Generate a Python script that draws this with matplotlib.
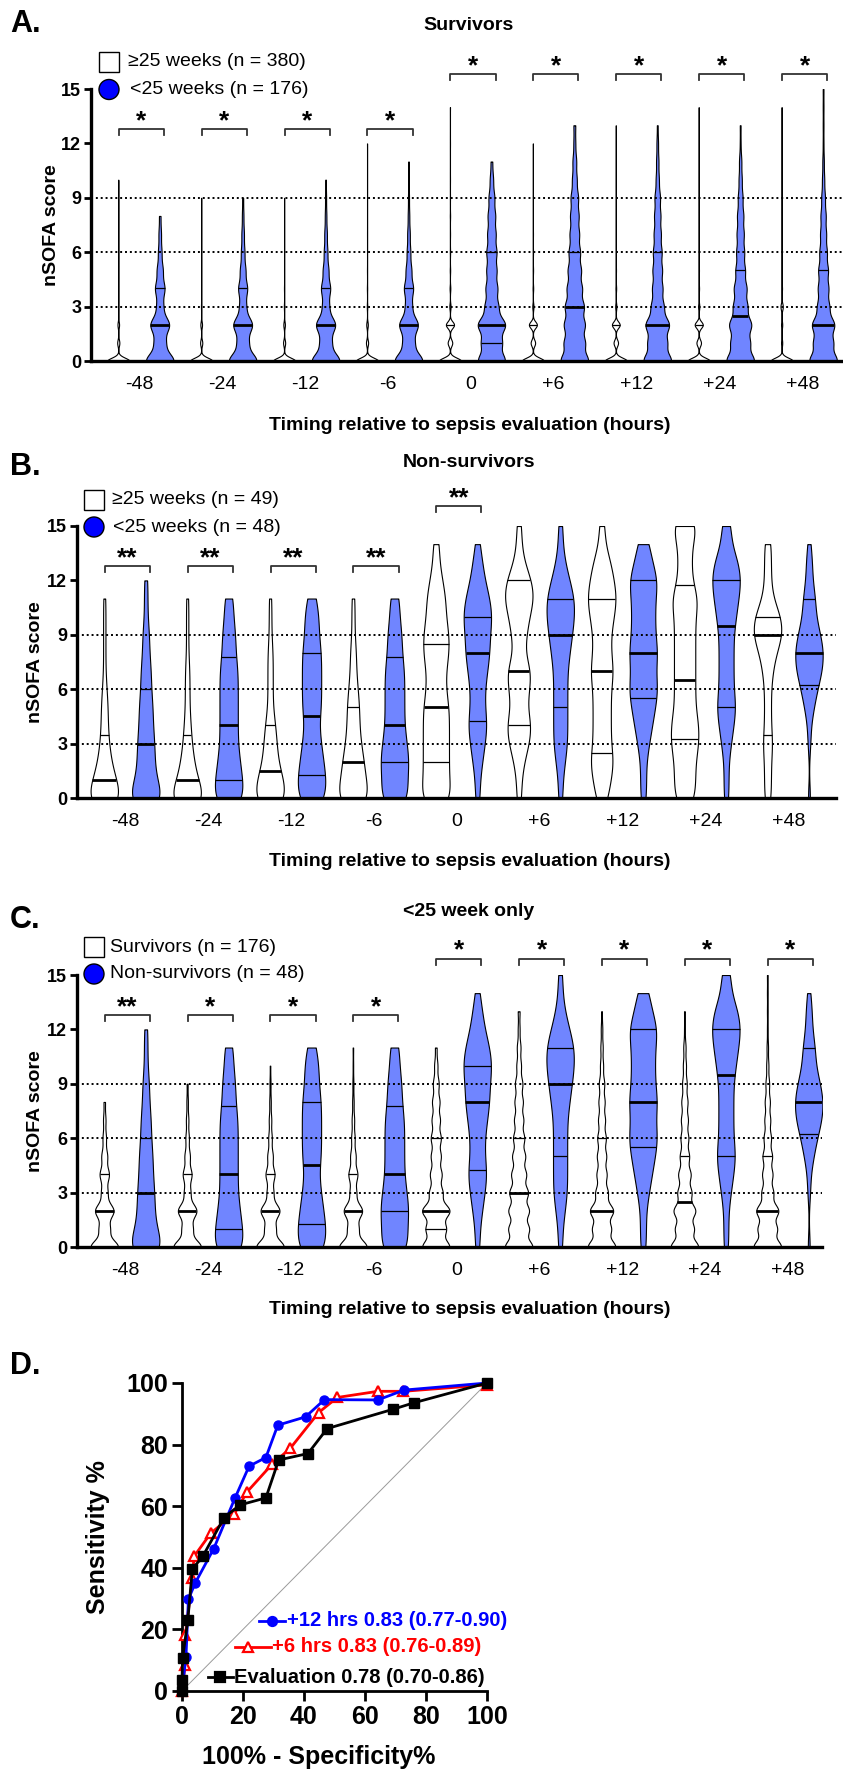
import numpy as np
import matplotlib
matplotlib.use('Agg')
import matplotlib.pyplot as plt
from matplotlib import cbook
from matplotlib.patches import Rectangle, Ellipse

plt.rcParams['font.family'] = ['Liberation Sans', 'DejaVu Sans']

# ---------------- data ----------------
times = ['-48', '-24', '-12', '-6', '0', '+6', '+12', '+24', '+48']

counts_g25_surv = [
    [312, 30, 22, 7, 4, 2, 1, 0, 1, 0, 1],
    [312, 30, 23, 7, 4, 2, 1, 0, 0, 1],
    [314, 29, 22, 7, 4, 2, 1, 0, 0, 1],
    [313, 30, 22, 7, 4, 2, 0, 1, 0, 0, 0, 0, 1],
    [220, 45, 80, 12, 7, 4, 3, 2, 3, 1, 1, 0, 1, 0, 1],
    [225, 45, 80, 12, 6, 4, 3, 2, 1, 1, 0, 0, 1],
    [225, 45, 78, 12, 7, 4, 3, 2, 1, 1, 1, 0, 0, 1],
    [222, 45, 80, 12, 7, 5, 3, 2, 1, 1, 1, 0, 0, 0, 1],
    [290, 15, 15, 30, 10, 6, 5, 3, 2, 1, 1, 0, 0, 0, 2],
]
counts_l25_surv = [
    [57, 22, 38, 13, 19, 12, 7, 5, 3],
    [57, 22, 38, 13, 18, 11, 7, 5, 3, 2],
    [56, 22, 38, 13, 18, 11, 7, 5, 3, 2, 1],
    [56, 22, 37, 13, 18, 11, 7, 5, 3, 2, 1, 1],
    [33, 24, 33, 16, 14, 12, 12, 10, 9, 7, 4, 2],
    [30, 22, 22, 20, 16, 14, 12, 10, 9, 8, 5, 4, 2, 2],
    [36, 24, 30, 16, 13, 12, 11, 9, 8, 7, 4, 3, 2, 1],
    [36, 24, 28, 18, 16, 12, 10, 9, 8, 6, 4, 3, 1, 1],
    [38, 26, 30, 16, 14, 13, 10, 8, 7, 5, 3, 2, 1, 1, 1, 1],
]
counts_g25_nonsurv = [
    [16, 10, 6, 4, 3, 3, 2, 1, 1, 1, 1, 1],
    [17, 9, 6, 4, 3, 2, 2, 2, 1, 1, 1, 1],
    [13, 10, 6, 5, 4, 2, 2, 2, 2, 1, 1, 1],
    [11, 8, 7, 5, 4, 4, 3, 2, 2, 1, 1, 1],
    [5, 4, 4, 4, 4, 4, 3, 3, 4, 4, 3, 3, 2, 1, 1],
    [1, 1, 2, 4, 5, 3, 4, 5, 2, 3, 4, 6, 5, 2, 1, 1],
    [2, 3, 4, 3, 3, 3, 3, 4, 3, 3, 4, 5, 4, 3, 1, 1],
    [3, 3, 3, 4, 4, 3, 3, 3, 3, 3, 3, 4, 2, 2, 2, 4],
    [2, 2, 2, 3, 2, 2, 2, 3, 5, 9, 8, 3, 2, 2, 2],
]
counts_l25_nonsurv = [
    [11, 6, 5, 5, 4, 4, 3, 3, 2, 2, 1, 1, 1],
    [7, 6, 5, 4, 4, 4, 4, 4, 3, 3, 2, 2],
    [6, 6, 5, 4, 3, 4, 4, 4, 4, 3, 3, 2],
    [6, 5, 6, 5, 4, 4, 4, 4, 3, 3, 2, 2],
    [1, 1, 2, 3, 4, 3, 3, 4, 5, 5, 6, 5, 3, 2, 1],
    [1, 1, 2, 3, 3, 3, 3, 3, 4, 5, 6, 6, 4, 2, 1, 1],
    [1, 1, 1, 2, 3, 4, 5, 4, 5, 4, 4, 4, 5, 3, 2],
    [1, 1, 1, 2, 3, 4, 3, 3, 3, 3, 4, 5, 6, 5, 2, 2],
    [1, 0, 0, 1, 1, 3, 5, 8, 9, 7, 4, 4, 2, 2, 1],
]

# quartile lines (Q1, median, Q3)
q1_g25_surv = [0, 0, 0, 0, 0, 0, 0, 0, 0]
med_g25_surv = [0, 0, 0, 0, 0, 0, 0, 0, 0]
q3_g25_surv = [0, 0, 0, 0, 2, 2, 2, 2, 2.75]

q1_l25_surv = [0, 0, 0, 0, 1, 0, 0, 0, 0]
med_l25_surv = [2, 2, 2, 2, 2, 3, 2, 2.5, 2]
q3_l25_surv = [4, 4, 4, 4, 6, 6, 6, 5, 5]

q1_g25_nonsurv = [0, 0, 0, 0, 2, 4, 2.5, 3.25, 3.5]
med_g25_nonsurv = [1, 1, 1.5, 2, 5, 7, 7, 6.5, 9]
q3_g25_nonsurv = [3.5, 3.5, 4, 5, 8.5, 12, 11, 11.75, 10]

q1_l25_nonsurv = [0, 1, 1.25, 2, 4.25, 5, 5.5, 5, 6.25]
med_l25_nonsurv = [3, 4, 4.5, 4, 8, 9, 8, 9.5, 8]
q3_l25_nonsurv = [6, 7.75, 8, 7.75, 10, 11, 12, 12, 11]

stars_A = ['*', '*', '*', '*', '*', '*', '*', '*', '*']
stars_B = ['**', '**', '**', '**', '**', '', '', '', '']
stars_C = ['**', '*', '*', '*', '*', '*', '*', '*', '*']

# ROC curves (100% - specificity, sensitivity)
roc12_x = [0, 1.3, 2.1, 4.4, 10.4, 17.4, 22.0, 27.5, 31.4, 40.5, 46.7, 64.2, 72.8, 100]
roc12_y = [0, 11.1, 29.8, 35.2, 46.2, 62.7, 73.0, 75.8, 86.3, 89.0, 94.6, 94.5, 97.7, 100]
roc6_x = [0, 1.0, 1.1, 3.4, 3.95, 9.4, 17.2, 21.3, 29.5, 35.5, 44.8, 50.9, 64.2, 72.6, 100]
roc6_y = [0, 8.4, 18.2, 36.6, 43.7, 51.2, 57.6, 64.6, 73.6, 78.8, 90.4, 95.3, 97.3, 97.3, 99.4]
rocE_x = [0, 0, 0.2, 1.9, 3.4, 6.8, 13.8, 19.0, 27.5, 31.7, 41.3, 47.6, 69.3, 76.1, 100]
rocE_y = [0, 3.5, 10.6, 23.0, 39.6, 43.7, 56.3, 60.4, 62.7, 75.0, 77.1, 85.2, 91.5, 93.6, 100]

# ---------------- figure ----------------
W, H = 843, 1771
fig = plt.figure(figsize=(W / 100, H / 100), dpi=100)


def fx(px):
    return px / W


def fy(py):
    return 1 - py / H


def rect(l, t, r, b):
    return [l / W, 1 - b / H, (r - l) / W, (b - t) / H]


BLUE_FILL = '#7085FF'


def kde(bw):
    def f(X, coords):
        X = np.asarray(X, float)
        z = (coords[:, None] - X[None, :]) / bw
        return np.exp(-0.5 * z ** 2).sum(axis=1)
    return f


def draw_violins(ax, counts, q1, med, q3, offset, face, width, bw, z):
    data = [np.repeat(np.arange(len(c)), c) for c in counts]
    stats = cbook.violin_stats(data, kde(bw), points=400)
    pos = np.arange(len(counts)) + offset
    parts = ax.violin(stats, positions=pos, widths=width, showextrema=False)
    for b in parts['bodies']:
        b.set_facecolor(face)
        b.set_edgecolor('black')
        b.set_linewidth(0.8)
        b.set_alpha(1)
        b.set_zorder(z)
    for p, st, a, m, c in zip(pos, stats, q1, med, q3):
        vmax = st['vals'].max()
        for v, lw in ((a, 0.9), (c, 0.9), (m, 2.0)):
            if v <= 0:
                continue
            half = np.interp(v, st['coords'], st['vals']) / vmax * width / 2
            ax.plot([p - half, p + half], [v, v], color='black', lw=lw,
                    zorder=z + 0.1, solid_capstyle='butt')


def violin_panel(r, xmax, cw, qw, ww, bww, cb, qb, bwb, stars, y_low, y_high):
    ax = fig.add_axes(r)
    draw_violins(ax, cw, *qw, offset=-0.25, face='white', width=ww, bw=bww, z=2)
    draw_violins(ax, cb, *qb, offset=0.25, face=BLUE_FILL, width=0.33, bw=bwb, z=2)
    for v in (3, 6, 9):
        ax.axhline(v, color='black', lw=1.4, ls=(0, (1, 1.5)), zorder=3)
    ax.set_xlim(-0.579, xmax)
    ax.set_ylim(0, 15)
    for s in ('top', 'right'):
        ax.spines[s].set_visible(False)
    for s in ('left', 'bottom'):
        ax.spines[s].set_linewidth(2.4)
        ax.spines[s].set_zorder(5)
    ax.set_xticks(range(len(times)), times)
    ax.set_yticks([0, 3, 6, 9, 12, 15])
    ax.tick_params(axis='x', length=0, pad=11, labelsize=14)
    ax.tick_params(axis='y', length=5, width=2, pad=2, labelsize=13)
    for lab in ax.get_yticklabels():
        lab.set_fontweight('bold')
    for i, s in enumerate(stars):
        if not s:
            continue
        yb = y_high if i >= 4 else y_low
        x0, x1 = i - 0.245, i + 0.30
        ax.plot([x0, x0, x1, x1], [yb - 0.33, yb, yb, yb - 0.33], color='#333333',
                lw=1.3, clip_on=False, zorder=4)
        ax.text((x0 + x1) / 2, yb + 0.05, s, ha='center', va='baseline',
                fontsize=19, fontweight='bold', clip_on=False)
    return ax


# ---- Panel A ----
axA = violin_panel(rect(91, 89, 843, 361), 8.49,
                   counts_g25_surv, (q1_g25_surv, med_g25_surv, q3_g25_surv), 0.27, 0.18,
                   counts_l25_surv, (q1_l25_surv, med_l25_surv, q3_l25_surv), 0.42,
                   stars_A, 12.8, 15.83)
# ---- Panel B ----
axB = violin_panel(rect(77, 526, 836, 798), 8.576,
                   counts_g25_nonsurv, (q1_g25_nonsurv, med_g25_nonsurv, q3_g25_nonsurv), 0.33, 0.75,
                   counts_l25_nonsurv, (q1_l25_nonsurv, med_l25_nonsurv, q3_l25_nonsurv), 0.75,
                   stars_B, 12.8, 16.1)
# ---- Panel C ----
axC = violin_panel(rect(77, 975, 822, 1247), 8.41,
                   counts_l25_surv, (q1_l25_surv, med_l25_surv, q3_l25_surv), 0.33, 0.38,
                   counts_l25_nonsurv, (q1_l25_nonsurv, med_l25_nonsurv, q3_l25_nonsurv), 0.75,
                   stars_C, 12.8, 15.9)

# texts for violin panels
for letter, ly, title, ty, xly, ylx, yly in (
        ('A.', 24, 'Survivors', 25, 425, 51, 225),
        ('B.', 467, 'Non-survivors', 463, 862, 36, 662),
        ('C.', 920, '<25 week only', 912, 1310, 36, 1111)):
    fig.text(fx(10), fy(ly), letter, fontsize=22, fontweight='bold', ha='left', va='center')
    fig.text(fx(469), fy(ty), title, fontsize=14, fontweight='bold', ha='center', va='center')
    fig.text(fx(470), fy(xly), 'Timing relative to sepsis evaluation (hours)', fontsize=14,
             fontweight='bold', ha='center', va='center')
    fig.text(fx(ylx), fy(yly), 'nSOFA score', fontsize=14, fontweight='bold', rotation=90,
             ha='center', va='center')


def legend(sqx, row1, row2, tx1, tx2, lab1, lab2):
    fig.add_artist(Rectangle((fx(sqx), fy(row1 + 10)), 20 / W, 20 / H, transform=fig.transFigure,
                             facecolor='white', edgecolor='black', lw=1.0))
    fig.add_artist(Ellipse((fx(sqx + 10), fy(row2)), 20 / W, 20 / H, transform=fig.transFigure,
                           facecolor='#0000FF', edgecolor='black', lw=1.0))
    fig.text(fx(tx1), fy(row1), lab1, fontsize=14, ha='left', va='center')
    fig.text(fx(tx2), fy(row2), lab2, fontsize=14, ha='left', va='center')


legend(99, 62, 89.5, 128, 130, '≥25 weeks (n = 380)', '<25 weeks (n = 176)')
legend(84, 500, 527, 112, 113, '≥25 weeks (n = 49)', '<25 weeks (n = 48)')
legend(84, 947, 974, 110, 110, 'Survivors (n = 176)', 'Non-survivors (n = 48)')

# ---- Panel D ----
axD = fig.add_axes(rect(182, 1383, 487, 1691))
axD.plot([0, 100], [0, 100], color='#9a9a9a', lw=0.7, zorder=1)
axD.plot(roc6_x, roc6_y, color='#FF0000', lw=2, marker='^', ms=7, mfc='white',
         mec='#FF0000', mew=1.6, clip_on=False, zorder=3)
axD.plot(roc12_x, roc12_y, color='#0000FF', lw=2, marker='o', ms=6.5, clip_on=False, zorder=4)
axD.plot(rocE_x, rocE_y, color='black', lw=2, marker='s', ms=6.5, clip_on=False, zorder=5)
axD.set_xlim(0, 100)
axD.set_ylim(0, 100)
for s in ('top', 'right'):
    axD.spines[s].set_visible(False)
for s in ('left', 'bottom'):
    axD.spines[s].set_linewidth(2.0)
axD.set_xticks([0, 20, 40, 60, 80, 100])
axD.set_yticks([0, 20, 40, 60, 80, 100])
axD.tick_params(length=7, width=2, labelsize=18, pad=3)
for lab in axD.get_xticklabels() + axD.get_yticklabels():
    lab.set_fontweight('bold')

# legend entries drawn as labels inside the plot
for (x0, x1, xm, xt, yy, col, mk, mfc, lab) in (
        (25.2, 33.9, 29.6, 34.4, 22.8, '#0000FF', 'o', '#0000FF', '+12 hrs 0.83 (0.77-0.90)'),
        (17.4, 29.3, 21.8, 29.6, 14.3, '#FF0000', '^', 'white', '+6 hrs 0.83 (0.76-0.89)'),
        (8.6, 16.8, 12.6, 17.0, 4.5, 'black', 's', 'black', 'Evaluation 0.78 (0.70-0.86)')):
    axD.plot([x0, x1], [yy, yy], color=col, lw=2, clip_on=False, zorder=6)
    axD.plot([xm], [yy], marker=mk, ms=6.5, color=col, mfc=mfc, mec=col, mew=1.6,
             clip_on=False, zorder=6)
    axD.text(xt, yy, lab, color=col, fontsize=14.5, fontweight='bold', ha='left', va='center',
             zorder=7)

fig.text(fx(10), fy(1366), 'D.', fontsize=22, fontweight='bold', ha='left', va='center')
fig.text(fx(319), fy(1757), '100% - Specificity%', fontsize=18, fontweight='bold',
         ha='center', va='center')
fig.text(fx(98), fy(1537), 'Sensitivity %', fontsize=18, fontweight='bold', rotation=90,
         ha='center', va='center')

fig.savefig('out.png', dpi=100)
